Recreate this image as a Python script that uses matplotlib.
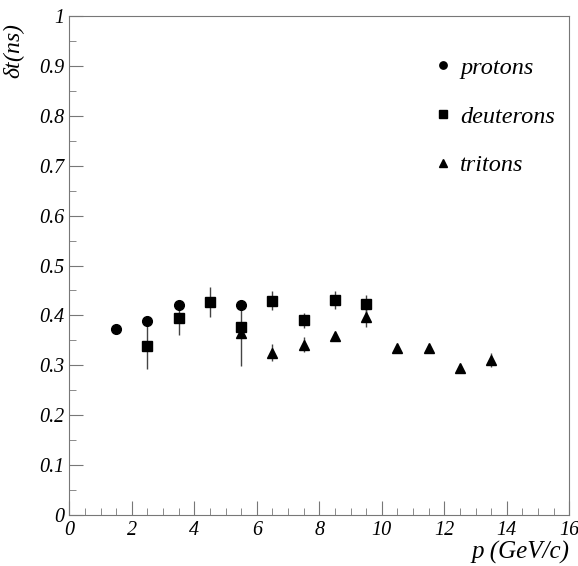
import matplotlib
matplotlib.use("Agg")
import matplotlib.pyplot as plt
from matplotlib.lines import Line2D
from matplotlib.ticker import MultipleLocator

# momentum bins (GeV/c) and time resolution (ns)
p_protons = [1.5, 2.5, 3.5, 5.5]
dt_protons = [0.373, 0.389, 0.421, 0.421]
err_protons = [0.008, 0.0, 0.0, 0.010]

p_deuterons = [2.5, 3.5, 4.5, 5.5, 6.5, 7.5, 8.5, 9.5]
dt_deuterons = [0.339, 0.394, 0.427, 0.377, 0.429, 0.390, 0.431, 0.423]
err_deuterons = [0.047, 0.033, 0.030, 0.010, 0.019, 0.015, 0.018, 0.018]

p_tritons = [5.5, 6.5, 7.5, 8.5, 9.5, 10.5, 11.5, 12.5, 13.5]
dt_tritons = [0.365, 0.325, 0.341, 0.358, 0.397, 0.335, 0.335, 0.295, 0.311]
err_tritons = [0.066, 0.017, 0.015, 0.005, 0.020, 0.0, 0.0, 0.0, 0.014]

x_ticks = list(range(0, 17, 2))
y_ticks = [i / 10 for i in range(11)]
y_ticklabels = ['0'] + ['0.%d' % i for i in range(1, 10)] + ['1']

plt.rcParams['font.family'] = 'Liberation Serif'
plt.rcParams['font.style'] = 'italic'

fig = plt.figure(figsize=(5.78, 5.66), dpi=100)
ax = fig.add_axes([0.1199, 0.0896, 0.865, 0.8826])

ecol = '#444444'
series = [
    (p_protons, dt_protons, err_protons, 'o', 'protons'),
    (p_deuterons, dt_deuterons, err_deuterons, 's', 'deuterons'),
    (p_tritons, dt_tritons, err_tritons, '^', 'tritons'),
]
handles = []
for p, dt, err, mk, name in series:
    ax.errorbar(p, dt, yerr=err, fmt=mk, color='black', ecolor=ecol,
                elinewidth=1, capsize=0, markersize=7)
    handles.append(Line2D([], [], marker=mk, color='black', linestyle='none',
                          markersize=5.3, label=name))

ax.set_xlim(0, 16)
ax.set_ylim(0, 1)
ax.set_xticks(x_ticks, [str(v) for v in x_ticks])
ax.set_yticks(y_ticks, y_ticklabels)
ax.xaxis.set_minor_locator(MultipleLocator(0.5))
ax.yaxis.set_minor_locator(MultipleLocator(0.05))
for lab in ax.get_xticklabels() + ax.get_yticklabels():
    lab.set_fontstyle('italic')

for s in ax.spines.values():
    s.set_color('#777777')
ax.tick_params(which='both', direction='in', color='#777777', labelsize=14.5,
               top=False, right=False)
ax.tick_params(which='major', length=10)
ax.tick_params(which='minor', length=5)
ax.tick_params(axis='x', pad=4)

ax.set_xlabel('p (GeV/c)', fontsize=18, fontstyle='italic', loc='right', labelpad=1)
ax.set_ylabel(r'$\mathregular{\delta}$t(ns)', fontsize=17, fontstyle='italic',
              loc='top')
ax.yaxis.set_label_coords(-0.085, 0.985)

leg = ax.legend(handles=handles, loc='upper right', frameon=False, fontsize=17.5,
                labelspacing=1.1, handletextpad=0.2, borderaxespad=0,
                handlelength=1.0, bbox_to_anchor=(0.991, 0.937))
for t in leg.get_texts():
    t.set_fontstyle('italic')

fig.savefig('out.png', dpi=100)
